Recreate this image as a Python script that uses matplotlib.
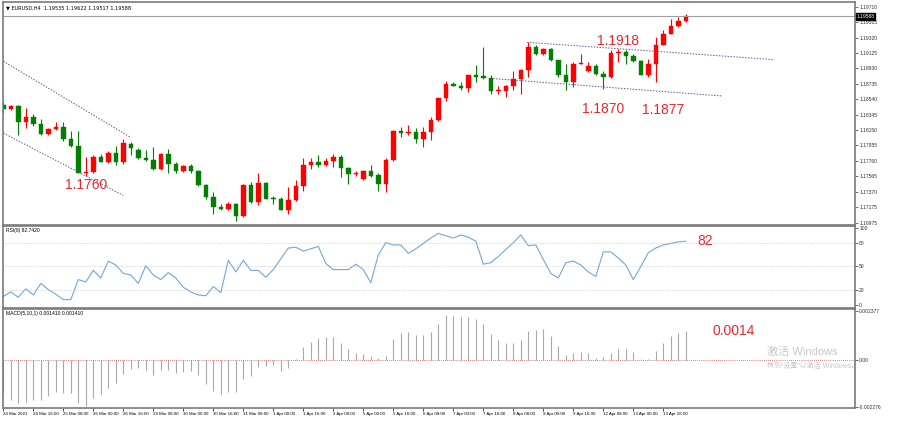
import numpy as np
import matplotlib
matplotlib.use("Agg")
import matplotlib.pyplot as plt

plt.rcParams['font.family'] = ['Liberation Sans', 'Noto Sans CJK SC', 'DejaVu Sans']

opens = [1.1847,1.1841,1.1845,1.1825,1.1832,1.1822,1.1810,1.1816,1.1819,1.1804,1.1795,1.1761,1.1762,1.1781,1.1775,1.1786,1.1774,1.1797,1.1790,1.1779,
         1.1777,1.1765,1.1784,1.1772,1.1763,1.1769,1.1763,1.1745,1.1730,1.1717,1.1715,1.1721,1.1706,1.1745,1.1724,1.1748,1.1729,1.1728,1.1714,1.1726,
         1.1744,1.1771,1.1774,1.1770,1.1776,1.1781,1.1767,1.1759,1.1753,1.1763,1.1758,1.1746,1.1777,1.1814,1.1811,1.1812,1.1804,1.1812,1.1827,1.1855,
         1.1873,1.1871,1.1868,1.1884,1.1883,1.1881,1.1864,1.1864,1.1871,1.1880,1.1891,1.1920,1.1911,1.1918,1.1903,1.1884,1.1876,1.1899,1.1889,1.1896,
         1.1886,1.1882,1.1912,1.1914,1.1909,1.1902,1.1885,1.1899,1.1923,1.1937,1.1946,1.19535]
highs = [1.1850,1.1847,1.1847,1.1843,1.1835,1.1829,1.1818,1.1825,1.1825,1.1814,1.1814,1.1781,1.1783,1.1785,1.1788,1.1795,1.1804,1.1800,1.1792,1.1789,
         1.1793,1.1786,1.1791,1.1774,1.1771,1.1772,1.1764,1.1747,1.1736,1.1721,1.1724,1.1722,1.1746,1.1749,1.1760,1.1749,1.1731,1.1730,1.1743,1.1751,
         1.1779,1.1779,1.1783,1.1779,1.1785,1.1783,1.1768,1.1763,1.1764,1.1770,1.1760,1.1779,1.1815,1.1819,1.1821,1.1817,1.1819,1.1831,1.1856,1.1877,
         1.1876,1.1876,1.1885,1.1897,1.1920,1.1884,1.1871,1.1872,1.1890,1.1892,1.1926,1.1922,1.1919,1.1919,1.1904,1.1898,1.1901,1.1911,1.1901,1.1898,
         1.1890,1.1916,1.1917,1.1916,1.1911,1.1903,1.1905,1.1933,1.1941,1.1956,1.1958,1.19622]
lows = [1.1836,1.1840,1.1808,1.1817,1.1820,1.1808,1.1808,1.1815,1.1801,1.1793,1.1761,1.1757,1.1760,1.1774,1.1773,1.1770,1.1772,1.1783,1.1778,1.1776,
        1.1764,1.1764,1.1760,1.1761,1.1762,1.1761,1.1744,1.1728,1.1709,1.1713,1.1714,1.1700,1.1705,1.1722,1.1720,1.1727,1.1721,1.1713,1.1709,1.1725,
        1.1738,1.1766,1.1768,1.1769,1.1768,1.1755,1.1747,1.1757,1.1751,1.1756,1.1738,1.1736,1.1776,1.1806,1.1808,1.1798,1.1793,1.1802,1.1826,1.1852,
        1.1870,1.1865,1.1863,1.1876,1.1880,1.1861,1.1861,1.1857,1.1865,1.1861,1.1882,1.1910,1.1910,1.1902,1.1882,1.1865,1.1869,1.1898,1.1888,1.1885,
        1.1867,1.1881,1.1901,1.1899,1.1901,1.1884,1.1882,1.1876,1.1922,1.1936,1.1945,1.19517]
closes = [1.1841,1.1845,1.1825,1.1832,1.1822,1.1810,1.1816,1.1819,1.1803,1.1795,1.1761,1.1762,1.1781,1.1775,1.1786,1.1774,1.1798,1.1792,1.1779,1.1777,
          1.1765,1.1784,1.1772,1.1763,1.1769,1.1763,1.1745,1.1730,1.1717,1.1715,1.1721,1.1706,1.1745,1.1724,1.1748,1.1728,1.1728,1.1714,1.1726,1.1744,
          1.1771,1.1774,1.1770,1.1776,1.1781,1.1767,1.1759,1.1760,1.1763,1.1757,1.1746,1.1777,1.1814,1.1811,1.1812,1.1804,1.1812,1.1827,1.1855,1.1873,
          1.1871,1.1868,1.1884,1.1882,1.1881,1.1864,1.1865,1.1871,1.1880,1.1891,1.1920,1.1911,1.1918,1.1903,1.1884,1.1876,1.1899,1.1900,1.1896,1.1886,
          1.1882,1.1912,1.1914,1.1909,1.1902,1.1885,1.1899,1.1923,1.1937,1.1946,1.1953,1.19588]

rsi = [11,17,10,21,13,28,20,14,7,7,33,30,45,35,57,52,41,39,28,51,39,33,42,35,23,17,13,12,24,16,58,43,58,45,45,36,46,60,74,75,
       70,73,76,54,46,46,46,53,46,29,65,81,78,78,67,73,80,87,93,90,87,91,88,83,53,55,63,72,81,91,77,78,59,41,35,55,57,52,43,37,
       69,69,61,52,33,50,68,74,78,80,82,82.74]

macd_e4 = [-16.1,-19.4,-20.8,-20.3,-19.4,-19.4,-17.7,-15.7,-16.1,-16.1,-21.1,-22.5,-18.6,-16.4,-13.5,-11.3,-6.8,-4.6,-4.2,-5.1,
           -7.3,-5.1,-5.1,-6.3,-5.9,-5.6,-7.6,-11.8,-15.2,-16.4,-15.7,-15.7,-9.3,-7.9,-3.4,-3.0,-2.5,-5.6,-4.2,0.3,
           6.2,8.8,10.4,10.9,10.9,8.2,5.4,3.4,2.6,1.6,0.8,2.0,10.1,12.9,13.5,12.1,11.9,13.2,17.4,21.7,
           21.2,20.9,20.9,19.7,17.5,12.4,9.3,8.2,8.2,9.3,14.0,14.4,14.7,11.6,6.7,2.3,3.1,3.6,3.4,0.8,
           1.1,3.1,5.1,5.4,3.9,0.5,0.3,4.2,8.2,11.3,12.9,14.1]

date_labels = ["24 Mar 2021","24 Mar 16:00","25 Mar 08:00","26 Mar 00:00","26 Mar 16:00","29 Mar 08:00","30 Mar 00:00",
               "30 Mar 16:00","31 Mar 08:00","1 Apr 00:00","1 Apr 16:00","2 Apr 08:00","5 Apr 00:00","5 Apr 16:00",
               "6 Apr 08:00","7 Apr 00:00","7 Apr 16:00","8 Apr 08:00","9 Apr 00:00","9 Apr 16:00","12 Apr 08:00",
               "13 Apr 00:00","13 Apr 16:00"]
price_ticks = [1.19710,1.19515,1.19320,1.19125,1.18930,1.18735,1.18540,1.18345,1.18150,1.17955,1.17760,1.17565,1.17370,1.17175,1.16975]

# trend channels: (index0, price0, index1, price1)
channels = [(0,1.1902,16.9,1.1806),(0,1.1811,16,1.1732),(69.8,1.1926,102.8,1.1904),(65.3,1.1880,95.8,1.1858)]

RED = '#ff0000'
GREEN = '#007f00'
ANN = '#e8282c'
GRID = '#b8b8b8'

fig = plt.figure(figsize=(9, 4.21), dpi=100)
L, W = 3/900, 852/900
ax = fig.add_axes([L, 196/421, W, 223/421])
ar = fig.add_axes([L, 113/421, W, 82/421])
am = fig.add_axes([L, 13/421, W, 99/421])

n = len(closes)
for i in range(n):
    o, h, l, c = opens[i], highs[i], lows[i], closes[i]
    col = RED if c >= o else GREEN
    ax.vlines(i, l, h, color=col, lw=0.8)
    lo, hi = min(o, c), max(o, c)
    ax.bar(i, max(hi - lo, 0.00005), bottom=lo, width=0.6, color=col, edgecolor=col, lw=0.3)

for (x0, p0, x1, p1) in channels:
    ax.plot([x0, x1], [p0, p1], ls=(0, (1.5, 1.5)), color='#5a5a9a', lw=0.7)

ax.axhline(closes[-1], color='#a0a0a0', lw=0.8)

xl = (-0.04, 113.56)
for a in (ax, ar, am):
    a.set_xlim(*xl)
    a.yaxis.tick_right()
    a.tick_params(axis='y', labelsize=3.6, length=2, width=0.5, pad=1, colors='#333333')
    a.set_xticks([])
    for s in a.spines.values():
        s.set_color('#7a7a7a'); s.set_linewidth(1.2)

ax.set_ylim(1.16946, 1.19770)
ax.set_yticks(price_ticks)
ax.set_yticklabels([f"{p:.5f}" for p in price_ticks])
ax.text(1.002, closes[-1], f"{closes[-1]:.5f}", transform=ax.get_yaxis_transform(), fontsize=3.6,
        color='white', va='center', ha='left', bbox=dict(boxstyle='square,pad=0.15', fc='black', ec='black'))
ax.text(0.004, 0.985, "▼ EURUSD,H4  1.19535 1.19622 1.19517 1.19588", transform=ax.transAxes,
        fontsize=3.6, va='top', family=['DejaVu Sans'])

ar.plot(np.arange(len(rsi)), rsi, color='#6fa8d8', lw=0.8)
for lv in (80, 50, 20):
    ar.axhline(lv, color=GRID, ls=(0, (1, 1.5)), lw=0.5)
ar.set_ylim(-3.9, 102.6)
ar.set_yticks([100, 80, 50, 20, 0])
ar.text(0.004, 0.98, "RSI(8) 82.7420", transform=ar.transAxes, fontsize=3.6, va='top')

am.vlines(np.arange(len(macd_e4)), 0, np.array(macd_e4) * 1e-4, color='#a8a8a8', lw=0.8)
am.axhline(0, color='#d05050', ls=(0, (1, 1.5)), lw=0.6)
am.set_ylim(-0.00234, 0.002456)
am.set_yticks([0.002377, 0.0, -0.002276])
am.set_yticklabels(["0.002377", "0.00", "-0.002276"])
am.text(0.004, 0.98, "MACD(5,10,1) 0.001410 0.001410", transform=am.transAxes, fontsize=3.6, va='top')

am.set_xticks(np.arange(len(date_labels)) * 4)
am.set_xticklabels(date_labels, fontsize=3.2, ha='left')
am.tick_params(axis='x', length=2, width=0.5, pad=1)

# annotations
ax.text(11, 1.1745, "1.1760", color=ANN, fontsize=10, ha='center', va='center')
ax.text(82, 1.1928, "1.1918", color=ANN, fontsize=10, ha='center', va='center')
ax.text(80, 1.1842, "1.1870", color=ANN, fontsize=10, ha='center', va='center')
ax.text(88, 1.1840, "1.1877", color=ANN, fontsize=10, ha='center', va='center')
ar.text(92.5, 82.74, "82", color=ANN, fontsize=10, ha='left', va='center')
am.text(94.5, 0.00141, "0.0014", color=ANN, fontsize=10, ha='left', va='center')

fig.text(767/900, 1 - 352/421, "激活 Windows", fontsize=8, color='#c8c8c8', va='center')
fig.text(767/900, 1 - 366/421, "转到\u201c设置\u201d以激活 Windows。", fontsize=5, color='#c8c8c8', va='center')

fig.savefig("out.png", dpi=100)
